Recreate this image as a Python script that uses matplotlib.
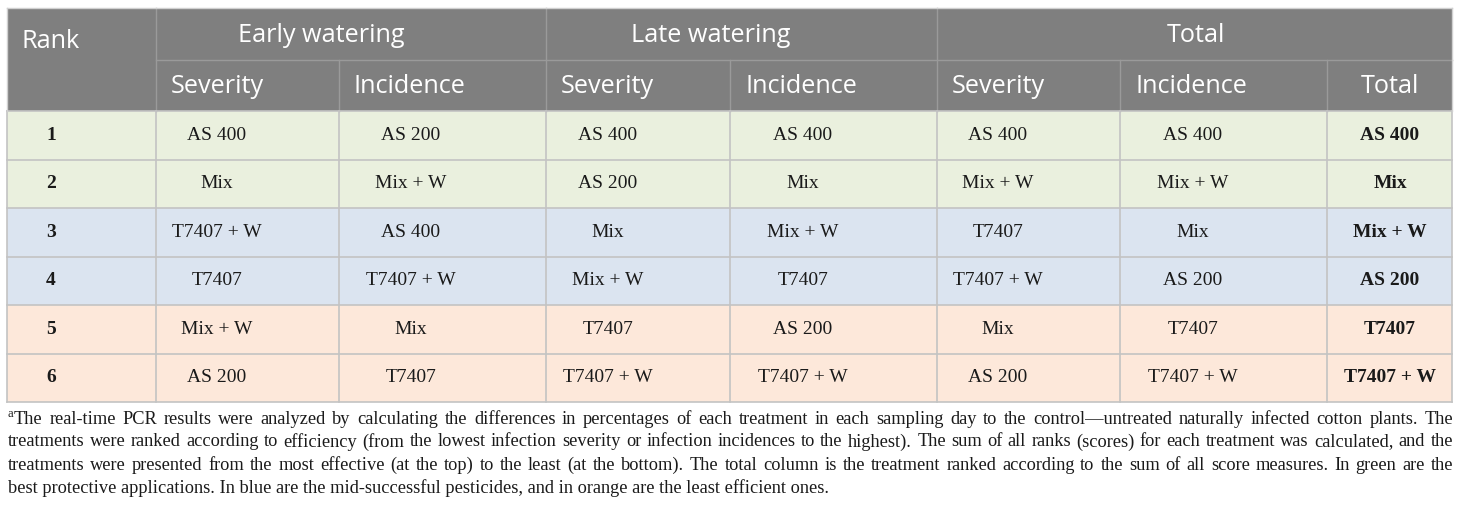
import matplotlib.pyplot as plt
from matplotlib.patches import Rectangle

# table content
groups = ['Early watering', 'Late watering', 'Total']
sub_headers = ['Severity', 'Incidence', 'Severity', 'Incidence', 'Severity', 'Incidence', 'Total']
ranks = ['1', '2', '3', '4', '5', '6']
early_severity = ['AS 400', 'Mix', 'T7407 + W', 'T7407', 'Mix + W', 'AS 200']
early_incidence = ['AS 200', 'Mix + W', 'AS 400', 'T7407 + W', 'Mix', 'T7407']
late_severity = ['AS 400', 'AS 200', 'Mix', 'Mix + W', 'T7407', 'T7407 + W']
late_incidence = ['AS 400', 'Mix', 'Mix + W', 'T7407', 'AS 200', 'T7407 + W']
total_severity = ['AS 400', 'Mix + W', 'T7407', 'T7407 + W', 'Mix', 'AS 200']
total_incidence = ['AS 400', 'Mix + W', 'Mix', 'AS 200', 'T7407', 'T7407 + W']
total_rank = ['AS 400', 'Mix', 'Mix + W', 'AS 200', 'T7407', 'T7407 + W']
row_groups = ['green', 'green', 'blue', 'blue', 'orange', 'orange']

footnote = [
    "The real-time PCR results were analyzed by calculating the differences in percentages of each treatment in each sampling day to the control\u2014untreated naturally infected cotton plants. The",
    "treatments were ranked according to efficiency (from the lowest infection severity or infection incidences to the highest). The sum of all ranks (scores) for each treatment was calculated, and the",
    "treatments were presented from the most effective (at the top) to the least (at the bottom). The total column is the treatment ranked according to the sum of all score measures. In green are the",
    "best protective applications. In blue are the mid-successful pesticides, and in orange are the least efficient ones.",
]

columns = [early_severity, early_incidence, late_severity, late_incidence,
           total_severity, total_incidence, total_rank]

# layout (pixels)
W, H = 1460, 513
edges = [7, 156, 339, 546, 730, 937, 1120, 1327, 1452]
group_spans = [(1, 3), (3, 5), (5, 8)]
group_cx = [321, 711, 1196]
text_cx = [217, 411, 608, 803, 998, 1193, 1390]
top, h1, h2 = 8, 60, 111
row_h = 48.5

header_col = '#7f7f7f'
fills = {'green': '#eaf0de', 'blue': '#dbe4f0', 'orange': '#fde8da'}
line_col = '#c3c3c3'
sans = 'Open Sans'
serif = 'Liberation Serif'
hfs = 18.2
ffs = 13.2

fig = plt.figure(figsize=(W / 100, H / 100), dpi=100)
ax = fig.add_axes([0, 0, 1, 1])
ax.set_xlim(0, W)
ax.set_ylim(H, 0)
ax.axis('off')

left, right = edges[0], edges[-1]
bottom = h2 + row_h * len(ranks)

# header background
ax.add_patch(Rectangle((left, top), right - left, h2 - top, facecolor=header_col, edgecolor='none'))

# row bands
for i, g in enumerate(row_groups):
    y0 = h2 + i * row_h
    ax.add_patch(Rectangle((left, y0), right - left, row_h, facecolor=fills[g], edgecolor='none'))

# header lines
hl = '#9a9a9a'
ax.plot([edges[1], right], [h1, h1], color=hl, lw=1)
for a, b in group_spans:
    ax.plot([edges[a], edges[a]], [top, h2], color=hl, lw=1)
for k in range(1, len(edges) - 1):
    if k not in [s[0] for s in group_spans]:
        ax.plot([edges[k], edges[k]], [h1, h2], color=hl, lw=1)

# body grid
for i in range(len(ranks) + 1):
    y = h2 + i * row_h
    ax.plot([left, right], [y, y], color=line_col, lw=1.2)
for x in edges:
    ax.plot([x, x], [h2, bottom], color=line_col, lw=1.2)
ax.plot([left, right], [top, top], color='#d0d0d0', lw=1)
ax.plot([left, left], [top, h2], color='#d0d0d0', lw=1)
ax.plot([right, right], [top, h2], color='#d0d0d0', lw=1)

# header text
ax.text(22, 42, 'Rank', color='white', fontsize=hfs, family=sans,
        ha='left', va='center')
for name, cx in zip(groups, group_cx):
    ax.text(cx, (top + h1) / 2 + 1, name, color='white', fontsize=hfs, family=sans,
            ha='center', va='center')
for k, name in enumerate(sub_headers):
    if name == 'Total':
        ax.text(text_cx[k], (h1 + h2) / 2 + 1, name, color='white', fontsize=hfs,
                family=sans, ha='center', va='center')
    else:
        ax.text(edges[k + 1] + 15, (h1 + h2) / 2 + 1, name, color='white', fontsize=hfs,
                family=sans, ha='left', va='center')

# body text
for i in range(len(ranks)):
    yc = h2 + (i + 0.5) * row_h
    ax.text(51, yc, ranks[i], fontsize=14, family=serif, weight='bold',
            ha='center', va='center', color='#1a1a1a')
    for k, col in enumerate(columns):
        ax.text(text_cx[k], yc, col[i], fontsize=14, family=serif,
                weight='bold' if k == len(columns) - 1 else 'normal',
                ha='center', va='center', color='#1a1a1a')

# footnote, justified like the reference (last line left aligned)
renderer = fig.canvas.get_renderer()
for j, line in enumerate(footnote):
    y = 419 + j * 23
    x0 = 8
    if j == 0:
        ax.text(x0, y - 5, 'a', fontsize=9, family=serif, ha='left', va='center', color='#1a1a1a')
        x0 = 14
    if j == len(footnote) - 1:
        ax.text(x0, y, line, fontsize=ffs, family=serif, ha='left', va='center', color='#1a1a1a')
        continue
    words = line.split(' ')
    objs = [ax.text(0, y, w, fontsize=ffs, family=serif, ha='left', va='center',
                    color='#1a1a1a') for w in words]
    widths = [o.get_window_extent(renderer).width for o in objs]
    gap = (1453 - x0 - sum(widths)) / (len(words) - 1)
    x = x0
    for o, w in zip(objs, widths):
        o.set_x(x)
        x += w + gap

fig.savefig('out.png', dpi=100)
